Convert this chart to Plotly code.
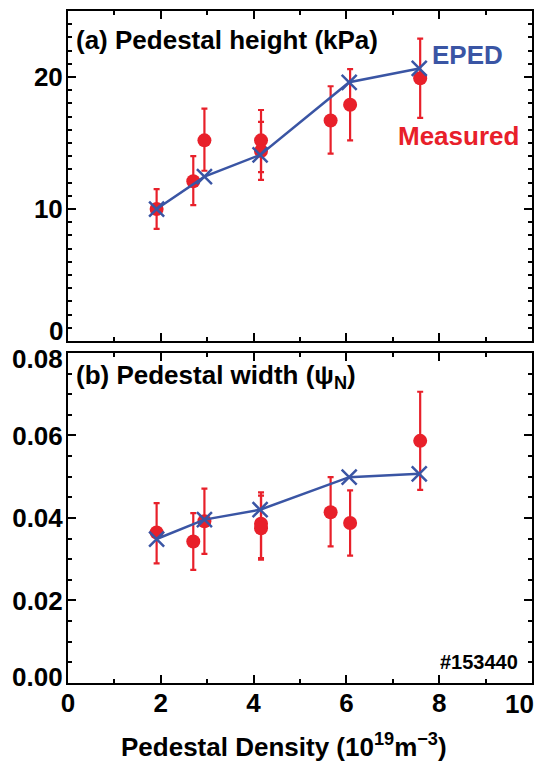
import plotly.graph_objects as go

# ---- data ----
density_meas = [1.91, 2.70, 2.94, 4.16, 4.16, 5.66, 6.08, 7.59]
height_meas = [10.0, 12.1, 15.2, 15.2, 14.4, 16.7, 17.9, 19.9]
height_err_plus = [1.5, 1.9, 2.4, 2.3, 2.2, 2.6, 2.7, 3.0]
height_err_minus = [1.5, 1.8, 2.3, 2.4, 2.2, 2.5, 2.7, 3.0]

width_meas = [0.0365, 0.0343, 0.0392, 0.0386, 0.0375, 0.0414, 0.0388, 0.0587]
width_err_plus = [0.0071, 0.0069, 0.0079, 0.0076, 0.0079, 0.0085, 0.0079, 0.0119]
width_err_minus = [0.0075, 0.0069, 0.0079, 0.0083, 0.0076, 0.0083, 0.0079, 0.0119]

density_eped = [1.91, 2.94, 4.14, 6.06, 7.57]
height_eped = [10.0, 12.45, 14.1, 19.6, 20.65]
width_eped = [0.0349, 0.0396, 0.0420, 0.0499, 0.0507]

x_ticks = [0, 2, 4, 6, 8, 10]
height_ticks = [0, 10, 20]
width_ticks = [0.00, 0.02, 0.04, 0.06, 0.08]

RED = "#e8202a"
BLUE = "#3a55a4"
FONT = "Liberation Sans, Arial, Helvetica, sans-serif"
FS = 26

fig = go.Figure()

# top panel (height)
fig.add_trace(go.Scatter(
    x=density_meas, y=height_meas, mode="markers", xaxis="x2", yaxis="y2",
    marker=dict(symbol="circle", size=14, color=RED),
    error_y=dict(type="data", symmetric=False, array=height_err_plus,
                 arrayminus=height_err_minus, color=RED, thickness=2.2, width=3),
    showlegend=False))
fig.add_trace(go.Scatter(
    x=density_eped, y=height_eped, mode="lines+markers", xaxis="x2", yaxis="y2",
    line=dict(color=BLUE, width=2.5),
    marker=dict(symbol="x-thin", size=15, color=BLUE, line=dict(color=BLUE, width=2.5)),
    showlegend=False))

# bottom panel (width)
fig.add_trace(go.Scatter(
    x=density_meas, y=width_meas, mode="markers", xaxis="x", yaxis="y",
    marker=dict(symbol="circle", size=14, color=RED),
    error_y=dict(type="data", symmetric=False, array=width_err_plus,
                 arrayminus=width_err_minus, color=RED, thickness=2.2, width=3),
    showlegend=False))
fig.add_trace(go.Scatter(
    x=density_eped, y=width_eped, mode="lines+markers", xaxis="x", yaxis="y",
    line=dict(color=BLUE, width=2.5),
    marker=dict(symbol="x-thin", size=15, color=BLUE, line=dict(color=BLUE, width=2.5)),
    showlegend=False))

tickfont = dict(family=FONT, size=FS, color="black", weight="bold")
axis_common = dict(
    showline=True, linecolor="black", linewidth=2, mirror="allticks",
    ticks="inside", ticklen=8, tickwidth=2, tickcolor="black",
    showgrid=False, zeroline=False, automargin=False,
    tickfont=tickfont,
)
minor_common = dict(ticks="inside", ticklen=4, tickwidth=2, tickcolor="black", tick0=0)

# interior tick labels drawn by the axes; the labels at the panel edges are
# placed as annotations (nudged inward as in the reference)
fig.update_layout(
    width=539, height=767,
    margin=dict(l=68, r=7, t=11, b=84),
    paper_bgcolor="white", plot_bgcolor="white",
    font=dict(family=FONT, size=FS, color="black", weight="bold"),
    xaxis=dict(domain=[0, 1], anchor="y", range=[0, 10],
               tickmode="array", tickvals=x_ticks,
               ticktext=[str(v) if v != x_ticks[-1] else "" for v in x_ticks],
               minor=dict(dtick=1, **minor_common),
               ticklabelstandoff=-4,
               **axis_common),
    xaxis2=dict(domain=[0, 1], anchor="y2", range=[0, 10], matches="x",
                tickmode="array", tickvals=x_ticks, showticklabels=False,
                minor=dict(dtick=1, **minor_common),
                **axis_common),
    yaxis=dict(domain=[0, 0.4911], anchor="x", range=[0, 0.08],
               tickmode="array", tickvals=width_ticks,
               ticktext=["" if v in (width_ticks[0], width_ticks[-1]) else "%.2f" % v
                         for v in width_ticks],
               minor=dict(dtick=0.005, **minor_common),
               ticklabelstandoff=-2,
               **axis_common),
    yaxis2=dict(domain=[0.5089, 1], anchor="x2", range=[0, 25],
                tickmode="array", tickvals=height_ticks,
                ticktext=["" if v == height_ticks[0] else str(v) for v in height_ticks],
                minor=dict(dtick=1, **minor_common),
                ticklabelstandoff=-2,
                **axis_common),
)

annotations = [
    # edge tick labels
    dict(text=str(height_ticks[0]), x=0, y=height_ticks[0], xref="paper", yref="y2",
         xanchor="right", yanchor="middle", xshift=-3, yshift=10, showarrow=False, font=tickfont),
    dict(text="%.2f" % width_ticks[-1], x=0, y=width_ticks[-1], xref="paper", yref="y",
         xanchor="right", yanchor="middle", xshift=-3, yshift=-6, showarrow=False, font=tickfont),
    dict(text="%.2f" % width_ticks[0], x=0, y=width_ticks[0], xref="paper", yref="y",
         xanchor="right", yanchor="middle", xshift=-3, yshift=6, showarrow=False, font=tickfont),
    dict(text=str(x_ticks[-1]), x=x_ticks[-1], y=0, xref="x", yref="paper",
         xanchor="right", yanchor="middle", xshift=4, yshift=-21, showarrow=False, font=tickfont),
    # panel labels
    dict(text="(a) Pedestal height (kPa)", x=0.13, y=22.8, xref="x2", yref="y2",
         xanchor="left", yanchor="middle", showarrow=False,
         font=dict(family=FONT, size=FS, color="black", weight="bold")),
    dict(text="EPED", x=8.62, y=21.65, xref="x2", yref="y2",
         xanchor="center", yanchor="middle", showarrow=False,
         font=dict(family=FONT, size=FS, color=BLUE, weight="bold")),
    dict(text="Measured", x=8.42, y=15.5, xref="x2", yref="y2",
         xanchor="center", yanchor="middle", showarrow=False,
         font=dict(family=FONT, size=FS, color=RED, weight="bold")),
    dict(text="(b) Pedestal width (ψ<sub>N</sub>)", x=0.13, y=0.0743, xref="x", yref="y",
         xanchor="left", yanchor="middle", showarrow=False,
         font=dict(family=FONT, size=FS, color="black", weight="bold")),
    dict(text="#153440", x=9.75, y=0.0052, xref="x", yref="y",
         xanchor="right", yanchor="middle", showarrow=False,
         font=dict(family=FONT, size=20, color="black", weight="bold")),
    dict(text="Pedestal Density (10<sup>19</sup>m<sup>−3</sup>)", x=4.66, y=-0.0923,
         xref="x", yref="paper", xanchor="center", yanchor="middle", showarrow=False,
         font=dict(family=FONT, size=FS, color="black", weight="bold")),
]
fig.update_layout(annotations=annotations)

fig.write_html("out.html",
               config={"displayModeBar": False, "staticPlot": True},
               post_script="document.body.style.margin='0px';document.body.style.overflow='hidden';")
